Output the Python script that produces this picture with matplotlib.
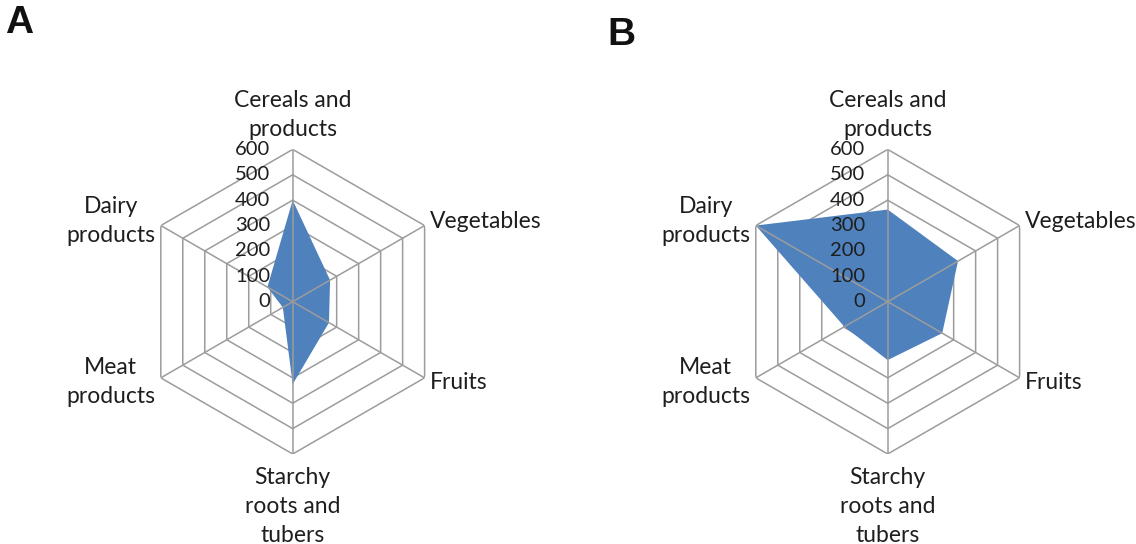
import numpy as np
import matplotlib
matplotlib.use("Agg")
import matplotlib.pyplot as plt

plt.rcParams['font.family'] = ['Lato', 'DejaVu Sans']

categories = ["Cereals and\nproducts", "Vegetables", "Fruits",
              "Starchy\nroots and\ntubers", "Meat\nproducts", "Dairy\nproducts"]
values_a = [400, 170, 165, 325, 45, 115]
values_b = [363, 320, 248, 230, 197, 600]
rings = [100, 200, 300, 400, 500, 600]
tick_labels = ["0", "100", "200", "300", "400", "500", "600"]
panel_labels = ["A", "B"]

W, H = 1136, 544
fig = plt.figure(figsize=(W / 100, H / 100), dpi=100)

R = 152.3
centers = [(292.7, 301.7), (887.7, 301.7)]
fill_color = "#4F81BD"
grid_color = "#9C9C9C"
text_color = "#1E1E1E"
fs_lab = 16.5
fs_tick = 14.5

n = len(categories)
angles = np.arange(n) * 2 * np.pi / n
ang_closed = np.append(angles, angles[0])

def label_props(i):
    props = [
        dict(xytext=(0, 7), ha='center', va='bottom'),
        dict(xytext=(4, 3), ha='left', va='center'),
        dict(xytext=(4, -3), ha='left', va='center'),
        dict(xytext=(0, -9), ha='center', va='top'),
        dict(xytext=(-4, -3), ha='right', va='center'),
        dict(xytext=(-4, 3), ha='right', va='center'),
    ]
    return props[i]

for (cx, cy), vals, plab in zip(centers, [values_a, values_b], panel_labels):
    ax = fig.add_axes([(cx - R) / W, (H - cy - R) / H, 2 * R / W, 2 * R / H],
                      projection='polar')
    ax.set_theta_offset(np.pi / 2)
    ax.set_theta_direction(-1)
    ax.set_ylim(0, 600)
    ax.grid(False)
    ax.set_xticks([])
    ax.set_yticks([])
    ax.spines['polar'].set_visible(False)
    ax.patch.set_visible(False)

    v = np.append(vals, vals[0])
    for r in rings:
        ax.plot(ang_closed, [r] * (n + 1), color=grid_color, lw=1.1, zorder=1,
                solid_joinstyle='miter')
    ax.fill(ang_closed, v, color=fill_color, zorder=2, lw=0)
    for a in angles:
        ax.plot([a, a], [0, 600], color=grid_color, lw=1.1, zorder=3)

    for t, lab in zip([0] + rings, tick_labels):
        ax.annotate(lab, xy=(0, t), xytext=(-16, 0), textcoords='offset points',
                    ha='right', va='center', fontsize=fs_tick, color=text_color,
                    zorder=4, annotation_clip=False)

    for i, (a, lab) in enumerate(zip(angles, categories)):
        p = label_props(i)
        ax.annotate(lab, xy=(a, 600), textcoords='offset points',
                    fontsize=fs_lab, color=text_color, multialignment='center',
                    linespacing=1.48, annotation_clip=False, **p)

fig.text(5 / W, 1 - 5 / H, panel_labels[0], fontsize=28, fontweight='bold',
         color='#111111', ha='left', va='top', family=['Liberation Sans'])
fig.text(607 / W, 1 - 17 / H, panel_labels[1], fontsize=28, fontweight='bold',
         color='#111111', ha='left', va='top', family=['Liberation Sans'])

fig.savefig("out.png", dpi=100)
